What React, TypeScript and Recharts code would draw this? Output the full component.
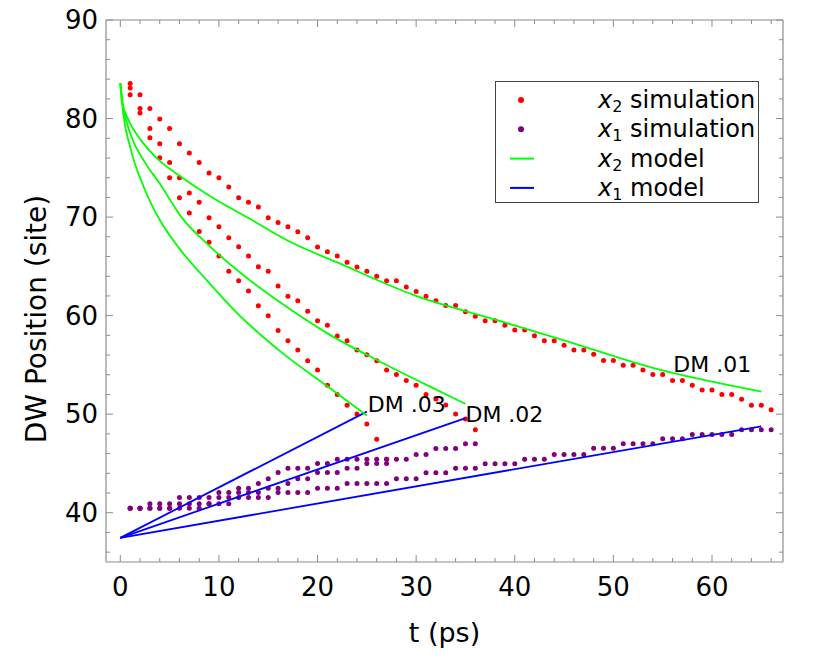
import React from "react";
import { ScatterChart, Scatter, XAxis, YAxis, Legend } from "recharts";

const RED = "#ff0000";
const PURPLE = "#800080";
const GREEN = "#00ff00";
const BLUE = "#0000ff";
const FRAME = "#8c8c8c";
const FONT = "'DejaVu Sans', sans-serif";

// simulation sample times (ps)
const simTimes = [
  1, 2, 3, 4, 5, 6, 7, 8, 9, 10, 11, 12, 13, 14, 15, 16, 17, 18, 19, 20, 21, 22,
  23, 24, 25, 26, 27, 28, 29, 30, 31, 32, 33, 34, 35, 36, 37, 38, 39, 40, 41, 42,
  43, 44, 45, 46, 47, 48, 49, 50, 51, 52, 53, 54, 55, 56, 57, 58, 59, 60, 61, 62,
  63, 64, 65, 66,
];

// x2 simulation (red)
const x2Sim01 = [
  83.56, 82.41, 81.03, 79.95, 78.99, 77.44, 76.5, 75.55, 74.47, 74.0, 73.05, 71.97,
  71.5, 71.02, 69.94, 69.46, 69.03, 68.52, 67.91, 66.97, 66.49, 66.05, 65.41, 64.94,
  64.5, 63.99, 63.55, 63.55, 62.91, 62.46, 61.96, 61.52, 61.04, 61.04, 60.4, 59.93,
  59.49, 59.49, 59.02, 58.55, 58.55, 57.97, 57.46, 57.46, 56.99, 56.52, 56.52, 56.08,
  55.44, 55.44, 54.96, 54.96, 54.49, 54.02, 54.02, 53.41, 53.41, 52.93, 52.46, 52.46,
  51.99, 51.99, 51.51, 50.9, 50.9, 50.44,
];
const x2Sim02 = [
  83.09, 81.03, 78.99, 77.44, 75.55, 74.0, 72.44, 71.5, 69.94, 69.03, 67.91, 67.0,
  66.05, 64.97, 64.5, 63.0, 61.96, 61.52, 60.44, 59.49, 59.02, 57.94, 57.46, 56.52,
  56.04, 55.43, 54.49, 54.02, 53.41, 52.93, 52.0, 51.55, 50.94, 50.03, 49.52, 48.41,
];
const x2Sim03 = [
  82.41, 80.56, 78.05, 76.03, 74.0, 71.97, 70.41, 68.55, 67.44, 66.05, 64.5, 63.55,
  62.5, 61.0, 60.0, 58.5, 57.46, 56.52, 55.43, 54.49, 52.93, 51.99, 50.9, 50.03,
  49.01, 47.45, 45.43,
];

// x1 simulation (purple)
const x1Sim01 = [
  40.46, 40.46, 40.46, 40.46, 40.46, 40.46, 40.46, 40.46, 40.9, 40.9, 40.9, 41.54,
  41.54, 41.54, 41.54, 42.05, 42.05, 42.05, 42.05, 42.49, 42.49, 42.49, 42.96, 42.96,
  42.96, 42.96, 42.96, 43.44, 43.44, 43.44, 44.05, 44.05, 44.05, 44.51, 44.51, 44.51,
  44.96, 44.96, 44.96, 44.96, 45.43, 45.43, 45.43, 45.9, 45.9, 45.9, 45.9, 46.55,
  46.55, 46.55, 46.99, 46.99, 46.99, 46.99, 47.5, 47.5, 47.5, 47.93, 47.93, 47.93,
  47.93, 47.93, 48.41, 48.41, 48.41, 48.41,
];
const x1Sim02 = [
  40.46, 40.46, 40.46, 40.46, 40.46, 40.9, 40.9, 40.9, 40.9, 41.54, 41.54, 42.05,
  42.05, 42.05, 42.49, 42.49, 42.96, 43.44, 43.44, 44.08, 44.08, 44.08, 44.51, 44.51,
  44.99, 44.99, 44.99, 45.43, 45.43, 45.9, 45.9, 46.51, 46.51, 46.51, 46.99, 46.99,
];
const x1Sim03 = [
  40.46, 40.46, 40.9, 40.9, 40.9, 41.54, 41.54, 41.54, 41.54, 42.05, 42.05, 42.49,
  42.49, 42.96, 43.44, 44.08, 44.51, 44.51, 44.51, 44.99, 44.99, 45.43, 45.43, 45.43,
  45.43, 45.43, 45.43,
];

// x2 model (green)
const x2ModelT01 = [0, 0.2, 0.5, 1, 2.4, 4, 6, 9, 13, 17, 22, 30, 38, 45, 54, 65];
const x2Model01 = [83.6, 81.5, 80.6, 79.5, 77.4, 75.7, 74.2, 72.2, 69.9, 67.6, 65.4, 62.0, 59.6, 57.5, 54.7, 52.3];
const x2ModelT02 = [0, 0.3, 1, 2.4, 4, 6.2, 9, 13, 16.2, 21, 26.4, 31, 35];
const x2Model02 = [83.6, 81.2, 78.5, 75.7, 73.4, 70.0, 67.1, 63.7, 61.35, 58.2, 55.3, 53.0, 51.05];
const x2ModelT03 = [0, 0.3, 1, 2.4, 4, 6, 8.8, 12, 16.2, 21.3, 25];
const x2Model03 = [83.6, 80.5, 77.1, 73.0, 69.7, 66.8, 63.55, 60.1, 56.4, 52.6, 49.86];

// x1 model (blue)
const x1ModelT01 = [0, 65];
const x1Model01 = [37.45, 48.77];
const x1ModelT02 = [0, 35];
const x1Model02 = [37.45, 49.6];
const x1ModelT03 = [0, 25];
const x1Model03 = [37.45, 50.26];

const xTicks = [0, 2, 4, 6, 8, 10, 12, 14, 16, 18, 20, 22, 24, 26, 28, 30, 32, 34, 36, 38, 40, 42, 44, 46, 48, 50, 52, 54, 56, 58, 60, 62, 64, 66];
const yTicks = [36, 38, 40, 42, 44, 46, 48, 50, 52, 54, 56, 58, 60, 62, 64, 66, 68, 70, 72, 74, 76, 78, 80, 82, 84, 86, 88, 90];

const pts = (ts: number[], vs: number[]) => vs.map((v, i) => ({ t: ts[i], v }));

const dot = (color: string) => (p: any) => <circle cx={p.cx} cy={p.cy} r={2.5} fill={color} />;

const noSymbol = () => <g />;

// model curves draw no symbols; the last point carries the DM label
const endLabel = (ts: number[], text: string, dx: number, dy: number) => (p: any) =>
  p.payload && p.payload.t === ts[ts.length - 1] ? (
    <text x={p.cx + dx} y={p.cy + dy} fontSize={22} fontFamily={FONT} dominantBaseline="central">
      {text}
    </text>
  ) : (
    <g />
  );

const BottomTick = ({ x, y, payload }: any) => {
  const major = payload.value % 10 === 0;
  return (
    <g>
      <line x1={x} x2={x} y1={y} y2={y - (major ? 7 : 4)} stroke={FRAME} />
      {major && (
        <text x={x} y={y + 25} textAnchor="middle" dominantBaseline="central" fontSize={26} fontFamily={FONT} fill="#000">
          {payload.value}
        </text>
      )}
    </g>
  );
};

const TopTick = ({ x, y, payload }: any) => {
  const major = payload.value % 10 === 0;
  return <line x1={x} x2={x} y1={y} y2={y + (major ? 7 : 4)} stroke={FRAME} />;
};

const LeftTick = ({ x, y, payload }: any) => {
  const major = payload.value % 10 === 0;
  return (
    <g>
      <line x1={x} x2={x + (major ? 7 : 4)} y1={y} y2={y} stroke={FRAME} />
      {major && (
        <text x={x - 8} y={y} textAnchor="end" dominantBaseline="central" fontSize={26} fontFamily={FONT} fill="#000">
          {payload.value}
        </text>
      )}
    </g>
  );
};

const RightTick = ({ x, y, payload }: any) => {
  const major = payload.value % 10 === 0;
  return <line x1={x} x2={x - (major ? 7 : 4)} y1={y} y2={y} stroke={FRAME} />;
};

const legendRows = [
  { sub: "2", name: "simulation", kind: "dot", color: RED },
  { sub: "1", name: "simulation", kind: "dot", color: PURPLE },
  { sub: "2", name: "model", kind: "line", color: GREEN },
  { sub: "1", name: "model", kind: "line", color: BLUE },
];

const LegendBox = () => (
  <svg width={264} height={122} style={{ display: "block" }}>
    <rect x={0.5} y={0.5} width={263} height={121} fill="#fff" stroke="#444" />
    {legendRows.map((r, i) => {
      const cy = 19 + i * 29.3;
      return (
        <g key={i}>
          {r.kind === "dot" ? (
            <circle cx={26} cy={cy} r={3} fill={r.color} />
          ) : (
            <line x1={15} x2={39} y1={cy} y2={cy} stroke={r.color} strokeWidth={2} />
          )}
          <text x={103} y={cy} fontSize={24} fontFamily={FONT} dominantBaseline="central" fill="#000">
            <tspan fontStyle="italic">x</tspan>
            <tspan fontSize={16} dy={6}>{r.sub}</tspan>
            <tspan dy={-6}> {r.name}</tspan>
          </text>
        </g>
      );
    })}
  </svg>
);

export default function App() {
  return (
    <div style={{ margin: -8 }}>
      <ScatterChart width={830} height={668} margin={{ top: 19, right: 46, bottom: 46, left: 0 }}>
        <XAxis
          xAxisId="b"
          dataKey="t"
          type="number"
          domain={[-1.45, 67.2]}
          allowDataOverflow
          ticks={xTicks}
          interval={0}
          tickSize={0}
          tickMargin={0}
          tickLine={false}
          tick={BottomTick}
          height={60}
          axisLine={{ stroke: FRAME, strokeWidth: 1.2 }}
          label={{
            content: (p: any) => (
              <text
                x={p.viewBox.x + p.viewBox.width / 2}
                y={p.viewBox.y + 70}
                textAnchor="middle"
                dominantBaseline="central"
                fontSize={27}
                fontFamily={FONT}
              >
                t (ps)
              </text>
            ),
          }}
        />
        <XAxis
          xAxisId="top"
          dataKey="t"
          orientation="top"
          type="number"
          domain={[-1.45, 67.2]}
          allowDataOverflow
          ticks={xTicks}
          interval={0}
          tickSize={0}
          tickMargin={0}
          tickLine={false}
          tick={TopTick}
          height={1}
          axisLine={{ stroke: FRAME, strokeWidth: 1.2 }}
        />
        <YAxis
          yAxisId="l"
          dataKey="v"
          type="number"
          domain={[35, 90]}
          allowDataOverflow
          ticks={yTicks}
          interval={0}
          tickSize={0}
          tickMargin={0}
          tickLine={false}
          tick={LeftTick}
          width={106}
          axisLine={{ stroke: FRAME, strokeWidth: 1.2 }}
          label={{
            content: () => {
              const cx = 36;
              const cy = 319;
              return (
                <text
                  x={cx}
                  y={cy}
                  transform={`rotate(-90 ${cx} ${cy})`}
                  textAnchor="middle"
                  dominantBaseline="central"
                  fontSize={28}
                  fontFamily={FONT}
                >
                  DW Position (site)
                </text>
              );
            },
          }}
        />
        <YAxis
          yAxisId="r"
          dataKey="v"
          orientation="right"
          type="number"
          domain={[35, 90]}
          allowDataOverflow
          ticks={yTicks}
          interval={0}
          tickSize={0}
          tickMargin={0}
          tickLine={false}
          tick={RightTick}
          width={1}
          axisLine={{ stroke: FRAME, strokeWidth: 1.2 }}
        />
        <Legend
          layout="vertical"
          align="center"
          verticalAlign="middle"
          content={() => <LegendBox />}
          wrapperStyle={{ left: 495, top: 81, width: 264, height: 122 }}
        />

        {/* invisible series that binds the top and right frame axes */}
        <Scatter xAxisId="top" yAxisId="r" data={pts(x1ModelT01, x1Model01)} shape={noSymbol} legendType="none" isAnimationActive={false} />

        <Scatter xAxisId="b" yAxisId="l" data={pts(simTimes, x2Sim01)} shape={dot(RED)} isAnimationActive={false} />
        <Scatter xAxisId="b" yAxisId="l" data={pts(simTimes, x2Sim02)} shape={dot(RED)} isAnimationActive={false} />
        <Scatter xAxisId="b" yAxisId="l" data={pts(simTimes, x2Sim03)} shape={dot(RED)} isAnimationActive={false} />
        <Scatter xAxisId="b" yAxisId="l" data={pts(simTimes, x1Sim01)} shape={dot(PURPLE)} isAnimationActive={false} />
        <Scatter xAxisId="b" yAxisId="l" data={pts(simTimes, x1Sim02)} shape={dot(PURPLE)} isAnimationActive={false} />
        <Scatter xAxisId="b" yAxisId="l" data={pts(simTimes, x1Sim03)} shape={dot(PURPLE)} isAnimationActive={false} />

        <Scatter xAxisId="b" yAxisId="l" data={pts(x1ModelT01, x1Model01)} line={{ stroke: BLUE, strokeWidth: 1.8 }} shape={noSymbol} isAnimationActive={false} />
        <Scatter xAxisId="b" yAxisId="l" data={pts(x1ModelT02, x1Model02)} line={{ stroke: BLUE, strokeWidth: 1.8 }} shape={noSymbol} isAnimationActive={false} />
        <Scatter xAxisId="b" yAxisId="l" data={pts(x1ModelT03, x1Model03)} line={{ stroke: BLUE, strokeWidth: 1.8 }} shape={noSymbol} isAnimationActive={false} />
        <Scatter xAxisId="b" yAxisId="l" data={pts(x2ModelT01, x2Model01)} line={{ stroke: GREEN, strokeWidth: 1.8 }} lineJointType="monotoneX" shape={endLabel(x2ModelT01, "DM .01", -88, -27)} isAnimationActive={false} />
        <Scatter xAxisId="b" yAxisId="l" data={pts(x2ModelT02, x2Model02)} line={{ stroke: GREEN, strokeWidth: 1.8 }} lineJointType="monotoneX" shape={endLabel(x2ModelT02, "DM .02", 0, 11)} isAnimationActive={false} />
        <Scatter xAxisId="b" yAxisId="l" data={pts(x2ModelT03, x2Model03)} line={{ stroke: GREEN, strokeWidth: 1.8 }} lineJointType="monotoneX" shape={endLabel(x2ModelT03, "DM .03", 1, -11)} isAnimationActive={false} />
      </ScatterChart>
    </div>
  );
}
